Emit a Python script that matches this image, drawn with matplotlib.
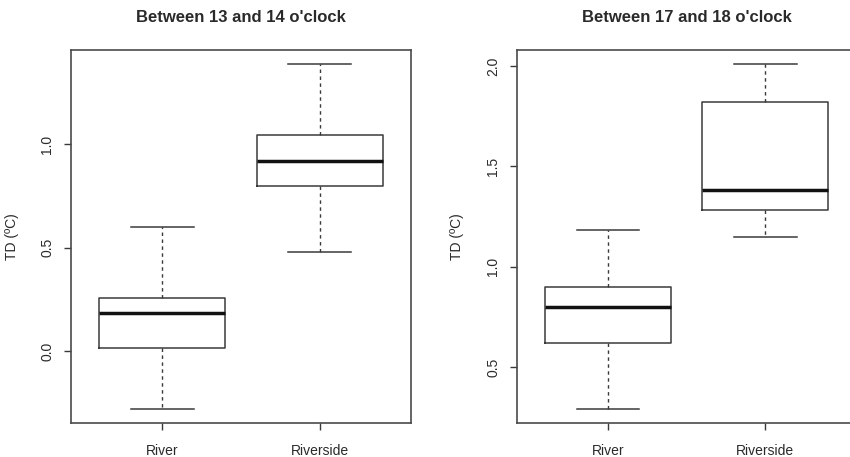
"""Two R-style boxplots of temperature difference (TD) for River vs Riverside."""

import matplotlib.pyplot as plt
import numpy as np

plt.rcParams["font.family"] = ["Liberation Sans", "DejaVu Sans"]

groups = ["River", "Riverside"]
titles = ["Between 13 and 14 o'clock", "Between 17 and 18 o'clock"]

# five-number summaries per panel: [River, Riverside]
whislo = [[-0.28, 0.48], [0.29, 1.15]]
q1 = [[0.015, 0.80], [0.62, 1.28]]
med = [[0.185, 0.92], [0.80, 1.38]]
q3 = [[0.26, 1.045], [0.90, 1.82]]
whishi = [[0.60, 1.39], [1.18, 2.01]]

yticks = [[0.0, 0.5, 1.0], [0.5, 1.0, 1.5, 2.0]]

W, H = 850, 457
fig = plt.figure(figsize=(W / 100, H / 100), dpi=100)

# axes boxes in pixels: left, top, width, height
boxes = [(71, 50, 340, 373), (516.7, 50, 340, 373)]
line_col = "#3a3a3a"
text_col = "#2a2a2a"

for i, (left, top, w, h) in enumerate(boxes):
    ax = fig.add_axes([left / W, 1 - (top + h) / H, w / W, h / H])
    stats = []
    for j, name in enumerate(groups):
        stats.append(dict(label=name, whislo=whislo[i][j], q1=q1[i][j], med=med[i][j],
                          q3=q3[i][j], whishi=whishi[i][j], fliers=[]))
    ax.bxp(stats, positions=[1, 2], widths=0.8, showfliers=False,
           boxprops=dict(color=line_col, linewidth=1.1),
           whiskerprops=dict(color=line_col, linewidth=1.0, linestyle=(0, (2.5, 2.5))),
           capprops=dict(color=line_col, linewidth=1.1),
           medianprops=dict(color="#111111", linewidth=2.5))

    # R default axis extension of 4%
    lo = min(whislo[i])
    hi = max(whishi[i])
    ext = 0.04 * (hi - lo)
    ax.set_ylim(lo - ext, hi + ext)
    ax.set_xlim(0.5 - 0.08, 2.5 + 0.08)

    ax.set_yticks(yticks[i])
    ax.set_yticklabels([f"{t:.1f}" for t in yticks[i]], rotation=90, va="center")
    ax.set_xticks([1, 2])
    ax.set_xticklabels(groups)
    ax.tick_params(axis="y", length=5, width=1, color=line_col, labelsize=10,
                   labelcolor=text_col, pad=7)
    ax.tick_params(axis="x", length=5, width=1, color=line_col, labelsize=10,
                   labelcolor=text_col, pad=10)
    for sp in ax.spines.values():
        sp.set_color("#4a4a4a")
        sp.set_linewidth(1.2)

    ax.set_ylabel("TD (ºC)", fontsize=10, color=text_col)
    ax.yaxis.label.set_va("center")
    ax.yaxis.set_label_coords(-0.175, 0.5)

    ax.text(0.5, 1 + 33 / h, titles[i], transform=ax.transAxes, ha="center", va="center",
            fontsize=12, fontweight="bold", color=text_col)

fig.savefig("out.png", dpi=100)
